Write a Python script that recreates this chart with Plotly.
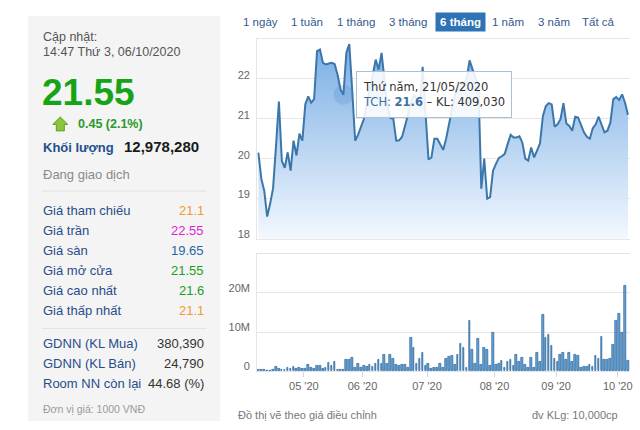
import plotly.graph_objects as go
import pandas as pd

W, H = 640, 430
FONT = "Arial, Liberation Sans, sans-serif"

# ---------------- data ----------------
holidays = ["2020-04-30", "2020-05-01", "2020-09-02"]
dates = [d for d in pd.bdate_range("2020-04-08", "2020-10-06")
         if d.strftime("%Y-%m-%d") not in holidays]

price = [
    20.15, 19.5, 19.2, 18.55, 18.87, 19.25, 20.3, 21.43, 19.95, 19.77,
    20.16, 19.7, 20.45, 20.08, 20.63, 20.45, 21.36, 21.56, 21.4, 21.49,
    22.69, 22.73, 22.4, 22.36, 22.38, 22.4, 22.37, 22.1, 21.73, 21.6,
    22.65, 22.87, 21.7, 20.45, 20.6, 20.78, 21.0, 21.4, 21.8, 22.1,
    22.48, 22.23, 22.65, 21.9, 21.3, 21.02, 21.0, 20.45, 20.46, 20.55,
    20.8, 21.1, 21.4, 21.6, 21.5, 21.3, 22.3, 21.1, 19.98, 20.03,
    20.5, 20.5, 20.36, 20.22, 20.5, 20.9, 21.3, 21.6, 21.8, 21.9,
    21.85, 22.0, 22.46, 22.23, 22.02, 21.9, 19.25, 20.0, 19.0, 19.04,
    19.7, 19.87, 20.02, 20.06, 20.12, 20.37, 20.6, 20.53, 20.53, 20.56,
    20.4, 20.0, 19.95, 20.28, 20.03, 20.2, 20.38, 21.07, 21.32, 21.39,
    21.36, 20.8, 20.86, 20.99, 21.39, 20.88, 20.82, 20.7, 21.05, 21.03,
    20.82, 20.66, 20.55, 20.5, 20.76, 20.86, 21.05, 20.85, 20.66, 20.7,
    20.9, 21.49, 21.54, 21.47, 21.61, 21.4, 21.1,
]

volume_m = [
    0.4, 0.3, 0.3, 0.2, 0.1, 0.3, 1.2, 0.6, 0.4, 0.3,
    0.9, 0.5, 1.1, 0.6, 1.0, 0.7, 0.5, 1.6, 0.9, 0.7,
    1.3, 1.5, 0.5, 0.9, 2.1, 1.4, 2.3, 0.4, 0.3, 0.40903,
    3.0, 2.9, 3.5, 1.0, 1.9, 1.0, 1.3, 1.2, 1.6, 1.1,
    1.8, 2.9, 1.8, 4.3, 2.0, 4.2, 3.3, 1.6, 1.4, 1.6,
    1.6, 0.8, 8.6, 6.1, 2.0, 3.1, 4.8, 1.4, 1.8, 0.5,
    1.0, 0.8, 1.8, 0.8, 3.3, 3.6, 4.0, 1.6, 4.2, 7.1,
    6.1, 0.8, 12.9, 5.4, 1.8, 8.4, 1.6, 6.1, 5.4, 1.4,
    9.8, 1.6, 1.8, 2.7, 0.9, 2.5, 2.9, 1.3, 4.2, 2.5,
    3.5, 1.6, 0.9, 3.5, 0.9, 4.7, 2.5, 14.3, 8.6, 9.4,
    6.4, 3.1, 2.5, 4.2, 4.8, 2.9, 4.7, 2.3, 4.2, 4.0,
    0.9, 1.1, 1.1, 1.6, 1.2, 4.0, 3.3, 8.8, 2.8, 2.8,
    3.1, 6.7, 12.9, 14.8, 9.7, 21.8, 2.7,
]

price_ticks = [18, 19, 20, 21, 22]
vol_ticks = [0, 10, 20, 30]
vol_tick_text = ["0", "10M", "20M", ""]

hover_date = "2020-05-21"
ticker = "TCH"
weekday_vi = ["Thứ hai", "Thứ ba", "Thứ tư", "Thứ năm", "Thứ sáu", "Thứ bảy", "Chủ nhật"]

buttons = ["1 ngày", "1 tuần", "1 tháng", "3 tháng", "6 tháng", "1 năm", "3 năm", "Tất cả"]
active_button = "6 tháng"

info_labels = ["Giá tham chiếu", "Giá trần", "Giá sàn", "Giá mở cửa", "Giá cao nhất", "Giá thấp nhất"]
info_values = ["21.1", "22.55", "19.65", "21.55", "21.6", "21.1"]
info_colors = ["#f39a2b", "#e01fd8", "#24679f", "#1e9e1e", "#1e9e1e", "#f39a2b"]
foreign_labels = ["GDNN (KL Mua)", "GDNN (KL Bán)", "Room NN còn lại"]
foreign_values = ["380,390", "24,790", "44.68 (%)"]

assert len(price) == len(dates) == len(volume_m)

# ---------------- derived ----------------
x = list(range(len(dates)))
month_tick_pos, month_tick_text = [], []
for i in range(1, len(dates)):
    if dates[i].month != dates[i - 1].month:
        month_tick_pos.append(i - 0.5)
        month_tick_text.append(f"{dates[i].month:02d} '{dates[i].year % 100:02d}")

h = [d.strftime("%Y-%m-%d") for d in dates].index(hover_date)
hd = dates[h]

def px(v):
    return v / W

def py(v):
    return 1 - v / H

fig = go.Figure()

# price area
fig.add_trace(go.Scatter(
    x=x, y=price, mode="lines", xaxis="x", yaxis="y",
    line=dict(color="#3b77aa", width=2),
    fill="tozeroy",
    fillgradient=dict(type="vertical", start=18, stop=23,
                      colorscale=[[0, "rgb(243,248,254)"], [1, "rgb(118,172,228)"]]),
    hoverinfo="skip", showlegend=False))

# hover halo
fig.add_trace(go.Scatter(
    x=[h], y=[price[h]], mode="markers", xaxis="x", yaxis="y",
    marker=dict(size=20, color="rgba(70,130,190,0.22)"),
    hoverinfo="skip", showlegend=False))

# volume bars
fig.add_trace(go.Bar(
    x=x, y=volume_m, xaxis="x2", yaxis="y2", width=0.58,
    marker=dict(color="#6aa6d8", line=dict(color="#2f6a9e", width=0.8)),
    hoverinfo="skip", showlegend=False))

xr = [-0.4, len(dates) - 1 + 0.7]
grid = "#e6e6e6"
tickfont = dict(family=FONT, size=11, color="#666666")

fig.update_layout(
    width=W, height=H, margin=dict(l=0, r=0, t=0, b=0), autosize=False,
    paper_bgcolor="white", plot_bgcolor="white", hovermode=False, showlegend=False,
    bargap=0,
    xaxis=dict(domain=[px(258), px(632)], range=xr, anchor="y",
               showticklabels=False, showgrid=False, zeroline=False,
               showline=True, linecolor=grid, mirror=True, ticks=""),
    yaxis=dict(domain=[py(239.7), py(39)], range=[18, 23], anchor="x",
               tickvals=price_ticks, gridcolor=grid, zeroline=False,
               showline=True, linecolor=grid, ticks="", tickfont=tickfont,
               ticklabelshift=-4, ticklabelstandoff=4),
    xaxis2=dict(domain=[px(258), px(632)], range=xr, anchor="y2",
                tickvals=month_tick_pos, ticktext=month_tick_text,
                showgrid=False, zeroline=False, showline=True, linecolor="#dfe4ea",
                mirror=True, ticks="outside", ticklen=5, tickcolor="#ccd6eb",
                tickfont=tickfont),
    yaxis2=dict(domain=[py(373), py(255)], range=[0, 30], anchor="x2",
                tickvals=vol_ticks, ticktext=vol_tick_text, gridcolor=grid,
                zeroline=False, showline=True, linecolor=grid, ticks="",
                tickfont=tickfont, ticklabelshift=-5, ticklabelstandoff=4),
)

shapes = []
# left panel background
shapes.append(dict(type="rect", xref="paper", yref="paper", x0=px(28), x1=px(221),
                   y0=py(423), y1=py(16), fillcolor="#f4f4f4", line=dict(width=0), layer="below"))
for yy in (192, 330):
    shapes.append(dict(type="line", xref="paper", yref="paper", x0=px(42), x1=px(207),
                       y0=py(yy), y1=py(yy), line=dict(color="#e2e2e2", width=1)))
# green up arrow icon
pts = [(60.5, 117.5), (68, 125), (64.5, 125), (64.5, 131.5), (56.5, 131.5), (56.5, 125), (53, 125)]
path = "M " + " L ".join(f"{px(a):.5f},{py(b):.5f}" for a, b in pts) + " Z"
shapes.append(dict(type="path", xref="paper", yref="paper", path=path,
                   fillcolor="#8cc63f", line=dict(color="#5f9f22", width=1)))

fig.update_layout(shapes=shapes)

def ann(text, x0, y0, size=13, color="#333333", xanchor="left", bold=False, **kw):
    fig.add_annotation(text=f"<b>{text}</b>" if bold else text, x=px(x0), y=py(y0),
                       xref="paper", yref="paper", showarrow=False, xanchor=xanchor,
                       yanchor="middle", font=dict(family=FONT, size=size, color=color), **kw)

# left panel texts
ann("Cập nhật:", 41, 37, 12.5, "#555555")
ann("14:47 Thứ 3, 06/10/2020", 41, 52, 12.5, "#555555")
ann("21.55", 40, 93, 37, "#16a316", bold=True)
ann("0.45 (2.1%)", 76, 124.5, 12.5, "#2a9a2a", bold=True)
ann("Khối lượng", 41, 148, 13, "#23508e", bold=True)
ann("12,978,280", 122, 147.5, 15, "#1a1a1a", bold=True)
ann("Đang giao dịch", 41, 175, 13, "#8a8a8a")
for i, (lab, val, col) in enumerate(zip(info_labels, info_values, info_colors)):
    yy = 211.7 + 20 * i
    ann(lab, 41, yy, 13, "#294d8a")
    ann(val, 207, yy, 13, col, xanchor="right")
for i, (lab, val) in enumerate(zip(foreign_labels, foreign_values)):
    yy = 345 + 20 * i
    ann(lab, 41, yy, 13, "#294d8a")
    ann(val, 207, yy, 13, "#333333", xanchor="right")
ann("Đơn vị giá: 1000 VNĐ", 41, 410.5, 10.5, "#9a9a9a")

# range buttons
btn_cx = [261, 308, 357, 409, 461.5, 510, 555.5, 600]
for lab, cx in zip(buttons, btn_cx):
    if lab == active_button:
        fig.add_annotation(text=f"<b>{lab}</b>", x=px(cx), y=py(22), xref="paper", yref="paper",
                           showarrow=False, xanchor="center", yanchor="middle",
                           font=dict(family=FONT, size=11.5, color="white"),
                           bgcolor="#2e73b5", borderpad=3, width=43)
    else:
        ann(lab, cx, 22, 11.5, "#33598d", xanchor="center")

# footer texts
ann("Đồ thị vẽ theo giá điều chỉnh", 237, 417, 11, "#777777")
ann("đv KLg: 10,000cp", 622, 417, 11, "#777777", xanchor="right")

# tooltip
vol_txt = f"{round(volume_m[h] * 1e6):,}"
tip = (f"{weekday_vi[hd.weekday()]}, {hd.day:02d}/{hd.month:02d}/{hd.year}<br>"
       f"<span style='color:#3d6ea3'>{ticker}: <b>{price[h]:g}</b></span> – KL: {vol_txt}")
fig.add_annotation(text=tip, x=h, y=price[h], xref="x", yref="y", showarrow=False,
                   xanchor="left", yanchor="middle", xshift=13, align="left",
                   width=142, height=33, borderpad=6,
                   bgcolor="rgba(255,255,255,0.88)", bordercolor="#a9c0d8", borderwidth=1,
                   font=dict(family="DejaVu Sans, Verdana, sans-serif", size=11.5, color="#333333"))

fig.write_html(
    "out.html",
    config={"responsive": False, "displayModeBar": False},
    post_script="document.body.style.margin='0';document.body.style.overflow='hidden';",
)
